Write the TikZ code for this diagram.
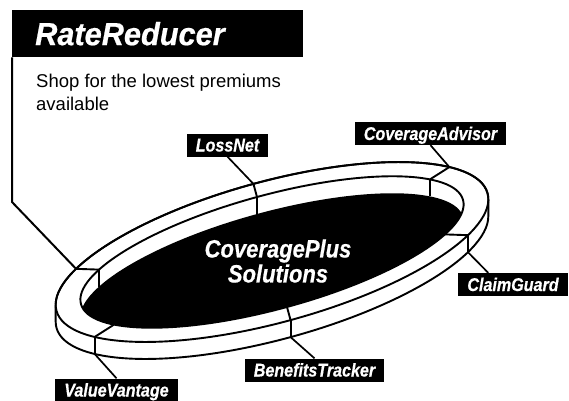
\documentclass[tikz,border=0pt]{standalone}
\usepackage{fontspec}
\setmainfont{Liberation Sans}
\newfontfamily\labfont{Liberation Sans}[UprightFont={* Bold Italic}, FakeStretch=0.87, FakeBold=0.6]
\newfontfamily\ctrfont{Liberation Sans}[UprightFont={* Bold Italic}, FakeStretch=0.88, FakeBold=0.6]
\newfontfamily\hdrfont{Liberation Sans}[UprightFont={* Bold Italic}, FakeStretch=0.96, FakeBold=0.6]
\begin{document}
\begin{tikzpicture}[x=1pt,y=1pt,
  ringline/.style={line width=1.9pt, line join=round},
  leader/.style={line width=1.7pt},
  tag/.style={fill=black, text=white, font=\labfont\fontsize{18.5}{18.5}\selectfont,
    inner xsep=9pt, inner ysep=4pt, text height=14pt, text depth=1pt}]
\useasboundingbox (0,0) rectangle (569,400);

% ring
\begin{scope}[shift={(272,148)}, rotate=15.25]
  \filldraw[ringline, fill=white] (-227.05,-10.342)
    arc[start angle=175.076, end angle=355.076, x radius=223.4, y radius=70.6]
    -- (222.58,-6.060)
    arc[start angle=355.076, end angle=535.076, x radius=223.4, y radius=70.6] -- cycle;
  \draw[ringline] (0,0) ellipse[x radius=223.4, y radius=70.6];
  \begin{scope}
    \clip (0,0) ellipse[x radius=198, y radius=57];
    \fill[black] (-4.471,-16.402) ellipse[x radius=198, y radius=57];
  \end{scope}
  \draw[ringline] (0,0) ellipse[x radius=198, y radius=57];
  \foreach \p in {30,90,...,330} {
    \coordinate (o\p) at (\p:223.4 and 70.6);
    \coordinate (i\p) at (\p:198 and 57);
    \draw[ringline] (o\p) -- (i\p);
  }
\end{scope}
\foreach \p in {210,270,330} \draw[ringline] (o\p) -- ++(0,-17) coordinate (w\p);
\foreach \p in {30,90,150} \draw[ringline] (i\p) -- ++(0,-17);

% centre text
\node[text=white, align=center, inner sep=0pt,
  font=\ctrfont\fontsize{25}{25}\selectfont] (centre) at (278,139) {CoveragePlus\\Solutions};

% labels
\node[tag] (lossnet) at (227.5,255) {LossNet};
\node[tag] (cadv) at (430.5,266.5) {CoverageAdvisor};
\node[tag] (claim) at (513,115.5) {ClaimGuard};
\node[tag] (btrack) at (314.5,30) {BenefitsTracker};
\node[tag] (vvant) at (116.5,10) {ValueVantage};

\draw[leader] (o90) -- (lossnet.south);
\draw[leader] (o30) -- (cadv.south);
\draw[leader] (w330) -- ([xshift=30pt]claim.north west);
\draw[leader] (w270) -- (btrack.north);
\draw[leader] (w210) -- (vvant.north);

% header box
\node[fill=black, text=white, anchor=north west, minimum height=47pt, inner xsep=23pt,
  text width=245pt, align=left, font=\hdrfont\fontsize{32}{32}\selectfont] (hdr) at (12,390) {RateReducer};
\coordinate (rrbend) at (12,198);
\draw[leader, line width=2pt] (hdr.south west) -- (rrbend) -- (o150);
\node[anchor=north west, inner sep=0pt, align=left, font=\fontsize{18.5}{23}\selectfont] (desc) at (36,326.5)
  {Shop for the lowest premiums\\available};
\end{tikzpicture}
\end{document}
